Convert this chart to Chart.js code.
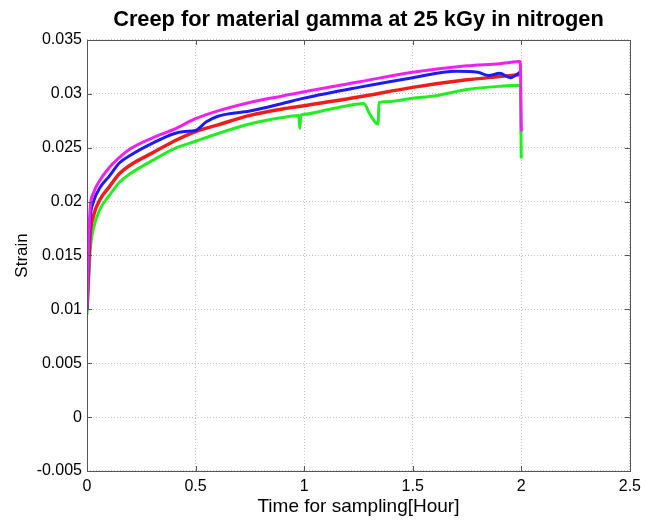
<!DOCTYPE html>
<html>
<head>
<meta charset="utf-8">
<script src="https://cdn.jsdelivr.net/npm/chart.js@4/dist/chart.umd.min.js"></script>
<style>
  html, body { margin: 0; padding: 0; background: #fff; }
  #chart { display: block; }
</style>
</head>
<body>
<canvas id="chart" width="647" height="523"></canvas>
<script>
// Values (time in hours, strain).
const magentaTime = [0, 0.005, 0.01, 0.015, 0.03, 0.06, 0.1, 0.15, 0.2, 0.3, 0.4, 0.5, 0.6, 0.75, 0.9, 1.0, 1.25, 1.5, 1.75, 1.9, 1.995, 2.0];
const magentaStrain = [0.0100, 0.0140, 0.0175, 0.0195, 0.0208, 0.0220, 0.0231, 0.0241, 0.0249, 0.0259, 0.0267, 0.0277, 0.0284, 0.0292, 0.0298, 0.0302, 0.0311, 0.0320, 0.0326, 0.0328, 0.0330, 0.0265];

const blueTime = [0, 0.005, 0.01, 0.015, 0.03, 0.06, 0.1, 0.15, 0.2, 0.3, 0.4, 0.45, 0.5, 0.55, 0.6, 0.75, 0.9, 1.0, 1.25, 1.5, 1.7, 1.8, 1.85, 1.9, 1.95, 2.0];
const blueStrain = [0.0100, 0.0135, 0.0165, 0.0185, 0.0200, 0.0213, 0.0223, 0.0236, 0.0243, 0.0254, 0.0263, 0.0265, 0.0266, 0.0274, 0.0279, 0.0284, 0.0291, 0.0296, 0.0306, 0.0315, 0.0321, 0.0320, 0.0317, 0.0319, 0.0315, 0.0321];

const redTime = [0, 0.005, 0.01, 0.015, 0.03, 0.06, 0.1, 0.15, 0.2, 0.3, 0.4, 0.5, 0.6, 0.75, 0.9, 1.0, 1.25, 1.5, 1.75, 1.9, 2.0];
const redStrain = [0.0100, 0.0125, 0.0150, 0.0170, 0.0187, 0.0202, 0.0213, 0.0226, 0.0234, 0.0245, 0.0256, 0.0265, 0.0271, 0.0280, 0.0286, 0.0289, 0.0297, 0.0306, 0.0313, 0.0316, 0.0318];

const greenTime = [0, 0.005, 0.01, 0.015, 0.03, 0.06, 0.1, 0.15, 0.2, 0.3, 0.4, 0.5, 0.6, 0.75, 0.9, 0.975, 0.98, 0.985, 1.0, 1.1, 1.2, 1.275, 1.3, 1.33, 1.34, 1.345, 1.4, 1.5, 1.6, 1.75, 1.9, 1.995, 2.0];
const greenStrain = [0.0095, 0.0115, 0.0135, 0.0155, 0.0175, 0.0193, 0.0205, 0.0218, 0.0226, 0.0238, 0.0249, 0.0256, 0.0263, 0.0272, 0.0278, 0.0280, 0.0268, 0.0280, 0.0281, 0.0285, 0.0289, 0.0291, 0.0282, 0.0273, 0.0272, 0.0292, 0.0293, 0.0296, 0.0298, 0.0304, 0.0307, 0.0308, 0.0240];

const xTicks = [0, 0.5, 1, 1.5, 2, 2.5];
const yTicks = [-0.005, 0, 0.005, 0.01, 0.015, 0.02, 0.025, 0.03, 0.035];

const FONT = "'Liberation Sans', Arial, sans-serif";

const toPoints = (ts, vs) => ts.map((t, i) => ({ x: t, y: vs[i] }));
const fmt = (v) => String(+Number(v).toFixed(4));

// MATLAB style box with inward tick marks
const matlabBox = {
  id: 'matlabBox',
  afterDraw(chart) {
    const { ctx, chartArea: a, scales } = chart;
    const len = 5;
    ctx.save();
    ctx.strokeStyle = '#555';
    ctx.lineWidth = 1;
    ctx.beginPath();
    for (const v of xTicks) {
      const x = Math.round(scales.x.getPixelForValue(v)) + 0.5;
      ctx.moveTo(x, a.bottom); ctx.lineTo(x, a.bottom - len);
      ctx.moveTo(x, a.top); ctx.lineTo(x, a.top + len);
    }
    for (const v of yTicks) {
      const y = Math.round(scales.y.getPixelForValue(v)) + 0.5;
      ctx.moveTo(a.left, y); ctx.lineTo(a.left + len, y);
      ctx.moveTo(a.right, y); ctx.lineTo(a.right - len, y);
    }
    ctx.stroke();
    ctx.strokeRect(Math.round(a.left) + 0.5, Math.round(a.top) + 0.5,
      Math.round(a.right - a.left), Math.round(a.bottom - a.top));
    ctx.restore();
  }
};

const line = (label, ts, vs, color, width) => ({
  label: label,
  data: toPoints(ts, vs),
  borderColor: color,
  borderWidth: width,
  pointRadius: 0,
  cubicInterpolationMode: 'monotone',
  fill: false,
});

new Chart(document.getElementById('chart'), {
  type: 'line',
  data: {
    datasets: [
      line('magenta', magentaTime, magentaStrain, '#f020f0', 3),
      line('blue', blueTime, blueStrain, '#1c1cf0', 3),
      line('red', redTime, redStrain, '#f01c1c', 3.5),
      line('green', greenTime, greenStrain, '#22ee22', 3),
    ]
  },
  options: {
    responsive: false,
    animation: false,
    layout: { padding: { left: 0, right: 15, top: 0, bottom: 0 } },
    plugins: {
      legend: { display: false },
      tooltip: { enabled: false },
      title: {
        display: true,
        text: 'Creep for material gamma at 25 kGy in nitrogen',
        fullSize: false,
        color: '#000',
        font: { family: FONT, size: 21.8, weight: 'bold' },
        padding: { top: 6.5, bottom: 7.3 },
      },
    },
    scales: {
      x: {
        type: 'linear',
        min: 0,
        max: 2.5,
        afterFit: (s) => { s.height = 52; },
        afterBuildTicks: (s) => { s.ticks = xTicks.map(v => ({ value: v })); },
        ticks: {
          color: '#000',
          padding: 6,
          maxRotation: 0,
          font: { family: FONT, size: 16 },
          callback: fmt,
        },
        grid: { color: '#c4c4c4', drawTicks: false },
        border: { display: false, dash: [1, 2] },
        title: {
          display: true,
          text: 'Time for sampling[Hour]',
          color: '#000',
          font: { family: FONT, size: 19 },
          padding: { top: 0, bottom: 4.6 },
        },
      },
      y: {
        type: 'linear',
        min: -0.005,
        max: 0.035,
        afterFit: (s) => { s.width = 87; },
        afterBuildTicks: (s) => { s.ticks = yTicks.map(v => ({ value: v })); },
        ticks: {
          color: '#000',
          padding: 5,
          font: { family: FONT, size: 16 },
          callback: fmt,
        },
        grid: { color: '#c4c4c4', drawTicks: false },
        border: { display: false, dash: [1, 2] },
        title: {
          display: true,
          text: 'Strain',
          color: '#000',
          font: { family: FONT, size: 17 },
          padding: { top: 12, bottom: 0 },
        },
      },
    },
  },
  plugins: [matlabBox],
});
</script>
</body>
</html>
